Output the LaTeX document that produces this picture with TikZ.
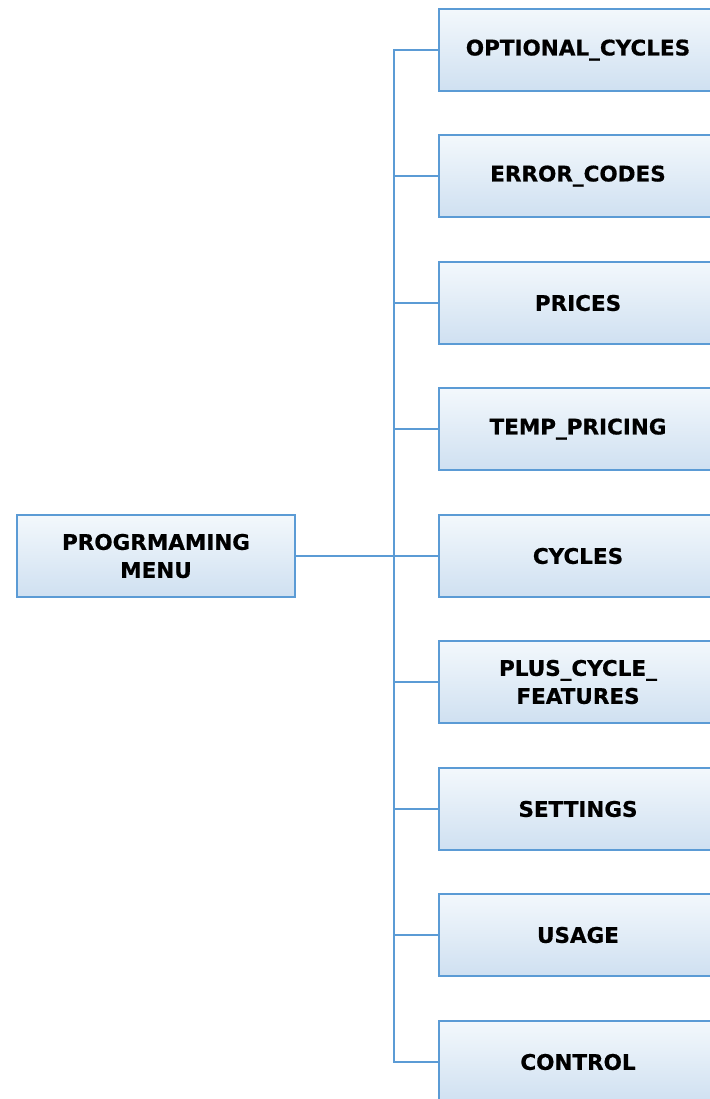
\documentclass[tikz,border=0pt]{standalone}
\usepackage{fontspec}
\setmainfont{DejaVu Sans}
\newfontfamily\boxfont[FakeBold=0.6]{DejaVu Sans Bold}
\usetikzlibrary{positioning}
\definecolor{edgeblue}{HTML}{5B9BD5}
\definecolor{topfill}{HTML}{F3F8FC}
\definecolor{botfill}{HTML}{CFE0F1}
\tikzset{
  menubox/.style={draw=edgeblue, line width=1.5pt, top color=topfill, bottom color=botfill,
    minimum width=278bp, minimum height=82bp, align=center, inner sep=2pt,
    font=\boxfont\fontsize{21.5bp}{28bp}\selectfont},
  link/.style={draw=edgeblue, line width=2pt}
}
\begin{document}
\begin{tikzpicture}[x=1bp,y=-1bp]
\useasboundingbox (0,0) rectangle (710,1099);
\node[menubox] (root) at (156,556) {PROGRMAMING\\MENU};
\coordinate (bus) at (394,556);
\foreach \n/\t/\y in {a/OPTIONAL\_CYCLES/50, b/ERROR\_CODES/176, c/PRICES/303, d/TEMP\_PRICING/429, e/CYCLES/556, f/PLUS\_CYCLE\_\\FEATURES/682, g/SETTINGS/809, h/USAGE/935, i/CONTROL/1062}{
  \node[menubox] (\n) at (578,\y) {\t};
}
\draw[link] (root.east) -- (e.west);
\draw[link] (a.west) -| (bus) |- (i.west);
\foreach \n in {b,c,d,f,g,h}{
  \draw[link] (\n.west) -- (\n.west -| bus);
}
\end{tikzpicture}
\end{document}
